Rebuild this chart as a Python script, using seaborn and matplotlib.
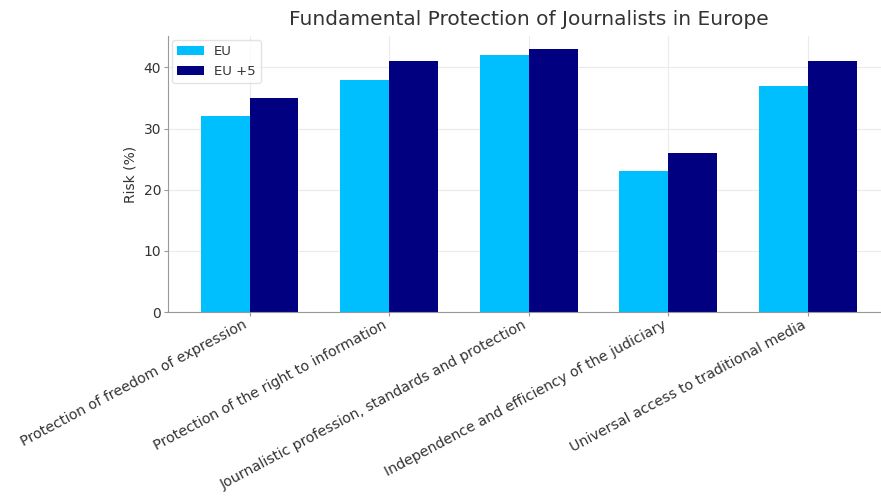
import matplotlib
matplotlib.use("Agg")
import matplotlib.pyplot as plt
import seaborn as sns
import pandas as pd

categories = [
    "Protection of freedom of expression",
    "Protection of the right to information",
    "Journalistic profession, standards and protection",
    "Independence and efficiency of the judiciary",
    "Universal access to traditional media",
]
series_names = ["EU", "EU +5"]
eu_values = [32, 38, 42, 23, 37]
eu5_values = [35, 41, 43, 26, 41]
colors = ["#00BFFF", "#000080"]

df = pd.DataFrame({
    "Category": categories * 2,
    "Group": [series_names[0]] * len(categories) + [series_names[1]] * len(categories),
    "Risk": eu_values + eu5_values,
})

sns.set_style("whitegrid", {
    "axes.edgecolor": "#999999",
    "grid.color": "#EBEBEB",
    "axes.spines.top": False,
    "axes.spines.right": False,
    "xtick.bottom": True,
    "ytick.left": True,
    "text.color": "#333333",
    "axes.labelcolor": "#333333",
    "xtick.color": "#333333",
    "ytick.color": "#333333",
})
plt.rcParams["font.family"] = ["DejaVu Sans"]

fig = plt.figure(figsize=(8.81, 5.0), dpi=100)
ax = fig.add_axes([0.1907, 0.376, 0.819, 0.552])

sns.barplot(data=df, x="Category", y="Risk", hue="Group", palette=colors,
            width=0.7, saturation=1, ax=ax, edgecolor="none", linewidth=0)

ax.set_xlim(-0.585, len(categories) - 1 + 0.585)
ax.set_ylim(0, 45.15)
ax.set_xlabel("")
ax.set_ylabel("Risk (%)", fontsize=10)
ax.set_title("Fundamental Protection of Journalists in Europe", fontsize=14.5, color="#333333", pad=8)
ax.tick_params(axis="y", labelsize=10, length=3, pad=2, color="#999999")
ax.tick_params(axis="x", labelsize=10.3, length=3, pad=1, color="#999999")
plt.setp(ax.get_xticklabels(), rotation=28, ha="right")
ax.grid(True, color="#EBEBEB", linewidth=0.8)
ax.set_axisbelow(True)

leg = ax.legend(loc="upper left", fontsize=9.5, frameon=True, title=None,
                borderaxespad=0.3)
leg.get_frame().set_edgecolor("#DDDDDD")

fig.savefig("out.png", dpi=100)
